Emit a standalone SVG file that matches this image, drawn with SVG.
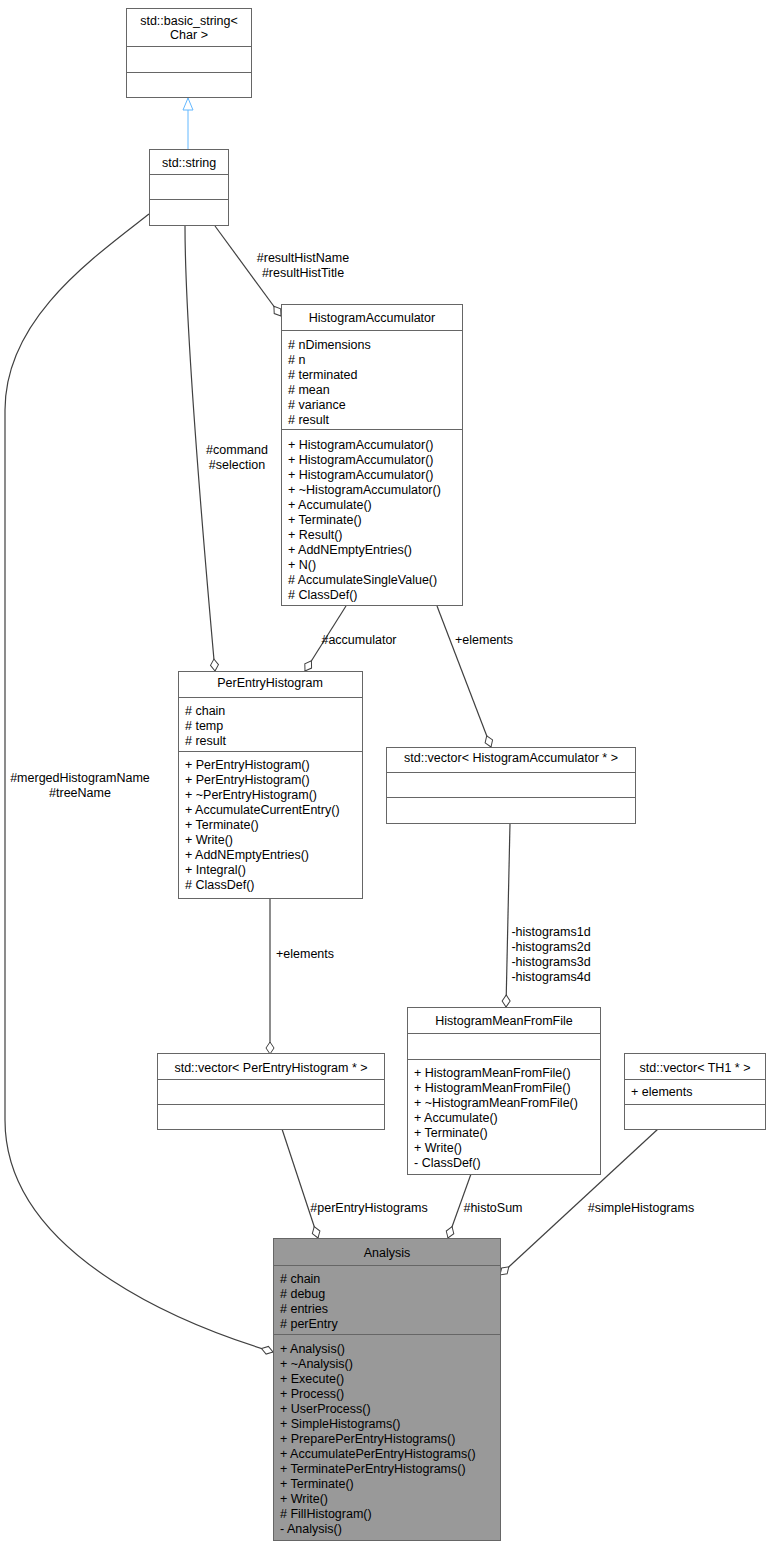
<svg xmlns="http://www.w3.org/2000/svg" width="771" height="1547" viewBox="0 0 771 1547">
<style>
text{font-family:"Liberation Sans",Arial,sans-serif;font-size:12.5px;fill:#000}
.c{text-anchor:middle}
.box{fill:#fff;stroke:#666;stroke-width:1}
.sep{stroke:#666;stroke-width:1}
.e{fill:none;stroke:#404040;stroke-width:1.2}
</style>
<defs>
<marker id="dia" viewBox="-1 -5 14 10" refX="0" refY="0" markerWidth="14" markerHeight="10" markerUnits="userSpaceOnUse" orient="auto"><path d="M0,0 L6,-4 L12,0 L6,4 Z" fill="#fff" stroke="#404040"/></marker>
<marker id="tri" viewBox="-1 -6 14 12" refX="12" refY="0" markerWidth="14" markerHeight="12" markerUnits="userSpaceOnUse" orient="auto"><path d="M0,-5 L12,0 L0,5 Z" fill="#fff" stroke="#63b8ff"/></marker>
</defs>
<rect width="771" height="1547" fill="#fff"/>
<g id="edges">
<path d="M188,149 L188,98" fill="none" stroke="#63b8ff" marker-end="url(#tri)"/>
<path class="e" d="M281,316 L215,226" marker-start="url(#dia)"/>
<text class="c" x="303" y="262">#resultHistName</text><text class="c" x="303" y="277">#resultHistTitle</text>
<path class="e" d="M215,671 C205,560 185,330 185,226" marker-start="url(#dia)"/>
<text class="c" x="237" y="454">#command</text><text class="c" x="237" y="469">#selection</text>
<path class="e" d="M273,1352 C200,1330 5,1260 5,1120 L5,410 C5,320 90,260 149,214" marker-start="url(#dia)"/>
<text class="c" x="80" y="782">#mergedHistogramName</text><text class="c" x="80" y="797">#treeName</text>
<path class="e" d="M305,671 L346,606" marker-start="url(#dia)"/>
<text class="c" x="359" y="644">#accumulator</text>
<path class="e" d="M491,747 L437,606" marker-start="url(#dia)"/>
<text class="c" x="484" y="644">+elements</text>
<path class="e" d="M270,1054 L270,898" marker-start="url(#dia)"/>
<text class="c" x="305" y="958">+elements</text>
<path class="e" d="M506,1007 L510,823" marker-start="url(#dia)"/>
<text class="c" x="551" y="936">-histograms1d</text><text class="c" x="551" y="951">-histograms2d</text><text class="c" x="551" y="966">-histograms3d</text><text class="c" x="551" y="981">-histograms4d</text>
<path class="e" d="M318,1238 L282,1129" marker-start="url(#dia)"/>
<text class="c" x="369" y="1212">#perEntryHistograms</text>
<path class="e" d="M448,1238 L471,1174" marker-start="url(#dia)"/>
<text class="c" x="493" y="1212">#histoSum</text>
<path class="e" d="M500,1275 L658,1129" marker-start="url(#dia)"/>
<text class="c" x="641" y="1212">#simpleHistograms</text>
</g>
<g id="basic_string">
<rect class="box" x="126.5" y="8.5" width="125" height="89"/>
<text class="c" x="189" y="25">std::basic_string&lt;</text><text class="c" x="189" y="39">Char &gt;</text>
<line class="sep" x1="126.5" y1="46.5" x2="251.5" y2="46.5"/><line class="sep" x1="126.5" y1="72.5" x2="251.5" y2="72.5"/>
</g>
<g id="string">
<rect class="box" x="149.5" y="149.5" width="79" height="76"/>
<text class="c" x="189" y="167">std::string</text>
<line class="sep" x1="149.5" y1="174.5" x2="228.5" y2="174.5"/><line class="sep" x1="149.5" y1="199.5" x2="228.5" y2="199.5"/>
</g>
<g id="HistogramAccumulator">
<rect class="box" x="281.5" y="304.5" width="181" height="301"/>
<text class="c" x="372" y="322">HistogramAccumulator</text>
<line class="sep" x1="281.5" y1="330.5" x2="462.5" y2="330.5"/>
<text x="288" y="349"># nDimensions</text><text x="288" y="364"># n</text><text x="288" y="379"># terminated</text><text x="288" y="394"># mean</text><text x="288" y="409"># variance</text><text x="288" y="424"># result</text>
<line class="sep" x1="281.5" y1="429.5" x2="462.5" y2="429.5"/>
<text x="288" y="449">+ HistogramAccumulator()</text><text x="288" y="464">+ HistogramAccumulator()</text><text x="288" y="479">+ HistogramAccumulator()</text><text x="288" y="494">+ ~HistogramAccumulator()</text><text x="288" y="509">+ Accumulate()</text><text x="288" y="524">+ Terminate()</text><text x="288" y="539">+ Result()</text><text x="288" y="554">+ AddNEmptyEntries()</text><text x="288" y="569">+ N()</text><text x="288" y="584"># AccumulateSingleValue()</text><text x="288" y="599"># ClassDef()</text>
</g>
<g id="PerEntryHistogram">
<rect class="box" x="178.5" y="671.5" width="184" height="227"/>
<text class="c" x="270" y="687">PerEntryHistogram</text>
<line class="sep" x1="178.5" y1="697.5" x2="362.5" y2="697.5"/>
<text x="185" y="715"># chain</text><text x="185" y="730"># temp</text><text x="185" y="745"># result</text>
<line class="sep" x1="178.5" y1="751.5" x2="362.5" y2="751.5"/>
<text x="185" y="769">+ PerEntryHistogram()</text><text x="185" y="784">+ PerEntryHistogram()</text><text x="185" y="799">+ ~PerEntryHistogram()</text><text x="185" y="814">+ AccumulateCurrentEntry()</text><text x="185" y="829">+ Terminate()</text><text x="185" y="844">+ Write()</text><text x="185" y="859">+ AddNEmptyEntries()</text><text x="185" y="874">+ Integral()</text><text x="185" y="889"># ClassDef()</text>
</g>
<g id="vector_HA">
<rect class="box" x="386.5" y="747.5" width="249" height="76"/>
<text class="c" x="511" y="762">std::vector&lt; HistogramAccumulator * &gt;</text>
<line class="sep" x1="386.5" y1="772.5" x2="635.5" y2="772.5"/><line class="sep" x1="386.5" y1="797.5" x2="635.5" y2="797.5"/>
</g>
<g id="HistogramMeanFromFile">
<rect class="box" x="407.5" y="1007.5" width="193" height="167"/>
<text class="c" x="504" y="1025">HistogramMeanFromFile</text>
<line class="sep" x1="407.5" y1="1033.5" x2="600.5" y2="1033.5"/><line class="sep" x1="407.5" y1="1059.5" x2="600.5" y2="1059.5"/>
<text x="414" y="1077">+ HistogramMeanFromFile()</text><text x="414" y="1092">+ HistogramMeanFromFile()</text><text x="414" y="1107">+ ~HistogramMeanFromFile()</text><text x="414" y="1122">+ Accumulate()</text><text x="414" y="1137">+ Terminate()</text><text x="414" y="1152">+ Write()</text><text x="414" y="1167">- ClassDef()</text>
</g>
<g id="vector_TH1">
<rect class="box" x="624.5" y="1053.5" width="141" height="76"/>
<text class="c" x="695" y="1072">std::vector&lt; TH1 * &gt;</text>
<line class="sep" x1="624.5" y1="1079.5" x2="765.5" y2="1079.5"/>
<text x="631" y="1096">+ elements</text>
<line class="sep" x1="624.5" y1="1104.5" x2="765.5" y2="1104.5"/>
</g>
<g id="vector_PEH">
<rect class="box" x="157.5" y="1053.5" width="227" height="76"/>
<text class="c" x="271" y="1072">std::vector&lt; PerEntryHistogram * &gt;</text>
<line class="sep" x1="157.5" y1="1079.5" x2="384.5" y2="1079.5"/><line class="sep" x1="157.5" y1="1104.5" x2="384.5" y2="1104.5"/>
</g>
<g id="Analysis">
<rect x="273.5" y="1238.5" width="227" height="302" fill="#999" stroke="#666"/>
<text class="c" x="387" y="1257">Analysis</text>
<line class="sep" x1="273.5" y1="1265.5" x2="500.5" y2="1265.5"/>
<text x="280" y="1283"># chain</text><text x="280" y="1298"># debug</text><text x="280" y="1313"># entries</text><text x="280" y="1328"># perEntry</text>
<line class="sep" x1="273.5" y1="1334.5" x2="500.5" y2="1334.5"/>
<text x="280" y="1353">+ Analysis()</text><text x="280" y="1368">+ ~Analysis()</text><text x="280" y="1383">+ Execute()</text><text x="280" y="1398">+ Process()</text><text x="280" y="1413">+ UserProcess()</text><text x="280" y="1428">+ SimpleHistograms()</text><text x="280" y="1443">+ PreparePerEntryHistograms()</text><text x="280" y="1458">+ AccumulatePerEntryHistograms()</text><text x="280" y="1473">+ TerminatePerEntryHistograms()</text><text x="280" y="1488">+ Terminate()</text><text x="280" y="1503">+ Write()</text><text x="280" y="1518"># FillHistogram()</text><text x="280" y="1533">- Analysis()</text>
</g>
</svg>
